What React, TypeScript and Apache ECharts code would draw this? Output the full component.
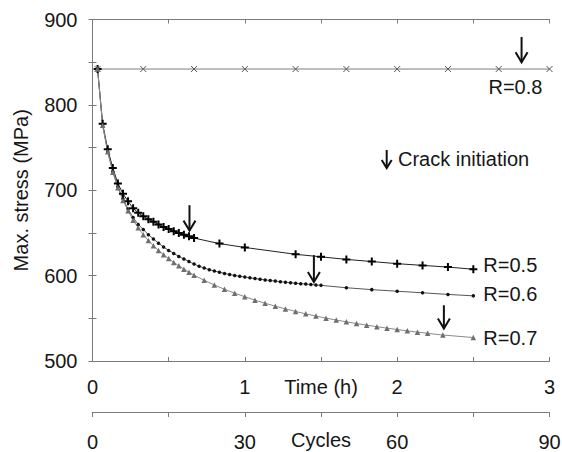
import React, { useEffect, useRef } from 'react';
import * as echarts from 'echarts';

// ---- data (x in cycles, y in MPa) ----
const cyclesR05 = [1, 2, 3, 4, 5, 6, 7, 8, 9, 10, 11, 12, 13, 14, 15, 16, 17, 18, 19, 20, 25, 30, 40, 45, 50, 55, 60, 65, 70, 75];
const stressR05 = [842, 778, 748, 726, 708, 696, 687, 679, 673.5, 669.5, 666, 663, 660, 657, 654.5, 652, 650, 648, 646, 644, 637.5, 633, 625, 622, 619, 616.5, 614, 612, 610, 607.5];

const cyclesR06 = [1, 2, 3, 4, 5, 6, 7, 8, 9, 10, 11, 12, 13, 14, 15, 16, 17, 18, 19, 20, 21, 22, 23, 24, 25, 26, 27, 28, 29, 30, 31, 32, 33, 34, 35, 36, 37, 38, 39, 40, 41, 42, 43, 44, 45, 50, 55, 60, 65, 70, 75];
const stressR06 = [842, 776, 745, 722, 704, 690, 678, 668, 660, 654, 648, 643, 638, 633.5, 629.5, 626, 622.5, 619.5, 616.5, 613.5, 611, 609, 607, 605.5, 604, 602.6, 601.3, 600.2, 599.2, 598.3, 597.4, 596.6, 595.8, 595, 594.3, 593.6, 592.9, 592.3, 591.7, 591.1, 590.6, 590.1, 589.6, 589.1, 588.6, 585.8, 583.6, 581.7, 579.9, 578, 576.3];

const cyclesR07 = [1, 2, 3, 4, 5, 6, 7, 8, 9, 10, 11, 12, 13, 14, 15, 16, 17, 18, 19, 20, 22, 24, 26, 28, 30, 32, 34, 36, 38, 40, 42, 44, 46, 48, 50, 52, 54, 56, 58, 60, 62, 64, 66, 69, 75];
const stressR07 = [842, 776, 745, 721, 703, 688, 676, 665, 656, 648, 641, 635, 629.5, 624.5, 620, 615.5, 611.5, 607.5, 604, 600.5, 594.5, 589, 584, 579.5, 575.3, 571.3, 567.6, 564.2, 561, 558, 555.2, 552.6, 550.2, 548, 545.9, 543.9, 542, 540.2, 538.5, 536.9, 535.3, 533.8, 532.4, 530.4, 527.5];

const cyclesR08 = [1, 10, 20, 30, 40, 50, 60, 70, 80, 90];
const stressR08 = [842, 842, 842, 842, 842, 842, 842, 842, 842, 842];

// crack initiation arrows: cycle, top stress, tip stress
const arrowCycles = [19.1, 43.6, 69.2, 84.5];
const arrowTop = [682.5, 624, 565.3, 879.5];
const arrowTip = [652.7, 592.6, 538, 850];

const seriesNames = ['R=0.5', 'R=0.6', 'R=0.7', 'R=0.8'];

const FONT = 'Liberation Sans, Arial, Helvetica, sans-serif';
const FS = 20;
const TXT = '#161616';
const AX = '#7a7a7a';

const zip = (xs: number[], ys: number[]) => xs.map((x, i) => [x, ys[i]]);

export default function App() {
  const ref = useRef<HTMLDivElement>(null);
  useEffect(() => {
    if (!ref.current) return;
    const chart = echarts.init(ref.current, null, { renderer: 'svg' });
    const axisLine = { show: true, lineStyle: { color: AX, width: 1 } };
    const option: any = {
      animation: false,
      textStyle: { fontFamily: FONT },
      grid: { left: 92.5, right: 12.5, top: 19.5, bottom: 91, containLabel: false, outerBoundsMode: 'none' },
      xAxis: [
        {
          type: 'value', position: 'bottom', offset: 51, min: 0, max: 90, interval: 15,
          axisLine, splitLine: { show: false },
          axisTick: { show: true, inside: false, length: 5, lineStyle: { color: AX } },
          axisLabel: { margin: 20, fontSize: FS, color: TXT, formatter: (v: number) => (v % 30 === 0 ? String(v) : '') },
          name: 'Cycles', nameLocation: 'middle', nameGap: 18, nameMoveOverlap: false,
          nameTextStyle: { fontSize: FS, color: TXT },
        },
        {
          type: 'value', position: 'bottom', offset: 0, min: 0, max: 3, interval: 0.5,
          axisLine, splitLine: { show: false },
          axisTick: { show: true, inside: true, length: 4, lineStyle: { color: AX } },
          axisLabel: { margin: 16, fontSize: FS, color: TXT, formatter: (v: number) => (Number.isInteger(v) ? String(v) : '') },
          name: 'Time (h)', nameLocation: 'middle', nameGap: 16, nameMoveOverlap: false,
          nameTextStyle: { fontSize: FS, color: TXT },
        },
        {
          type: 'value', position: 'top', min: 0, max: 3, interval: 0.5,
          axisLine, splitLine: { show: false },
          axisTick: { show: true, inside: true, length: 4, lineStyle: { color: AX } },
          axisLabel: { show: false },
        },
      ],
      yAxis: [
        {
          type: 'value', position: 'left', min: 500, max: 900, interval: 50,
          axisLine, splitLine: { show: false },
          axisTick: { show: true, inside: true, length: 4, lineStyle: { color: AX } },
          axisLabel: { margin: 15, fontSize: FS, color: TXT, formatter: (v: number) => (v % 100 === 0 ? String(v) : '') },
          name: 'Max. stress (MPa)', nameLocation: 'middle', nameGap: 62, nameMoveOverlap: false,
          nameTextStyle: { fontSize: FS, color: TXT },
        },
        {
          type: 'value', position: 'right', min: 500, max: 900, interval: 50,
          axisLine, splitLine: { show: false },
          axisTick: { show: true, inside: true, length: 4, lineStyle: { color: AX } },
          axisLabel: { show: false },
        },
      ],
      series: [
        {
          name: seriesNames[3], type: 'line', xAxisIndex: 0, yAxisIndex: 0,
          data: zip(cyclesR08, stressR08),
          symbol: 'path://M0,0L8,8M8,0L0,8', symbolSize: 6,
          itemStyle: { color: 'none', borderColor: '#555', borderWidth: 1 },
          lineStyle: { color: '#7d7d7d', width: 1 },
          endLabel: { show: true, formatter: seriesNames[3], fontSize: FS, color: TXT, distance: 0, offset: [-61, 17.5] },
        },
        {
          name: seriesNames[0], type: 'line', xAxisIndex: 0, yAxisIndex: 0,
          data: zip(cyclesR05, stressR05),
          symbol: 'path://M4,0L4,8M0,4L8,4', symbolSize: 8,
          itemStyle: { color: 'none', borderColor: '#000', borderWidth: 2 },
          lineStyle: { color: '#222', width: 1 },
          endLabel: { show: true, formatter: seriesNames[0], fontSize: FS, color: TXT, distance: 10, offset: [0, -4] },
        },
        {
          name: seriesNames[1], type: 'line', xAxisIndex: 0, yAxisIndex: 0,
          data: zip(cyclesR06, stressR06),
          symbol: 'circle', symbolSize: 3.5,
          itemStyle: { color: '#111', borderWidth: 0 },
          lineStyle: { color: '#555', width: 1 },
          endLabel: { show: true, formatter: seriesNames[1], fontSize: FS, color: TXT, distance: 10, offset: [0, -2] },
        },
        {
          name: seriesNames[2], type: 'line', xAxisIndex: 0, yAxisIndex: 0,
          data: zip(cyclesR07, stressR07),
          symbol: 'triangle', symbolSize: 5.5,
          itemStyle: { color: '#6e6e6e', borderWidth: 0 },
          lineStyle: { color: '#8a8a8a', width: 1 },
          endLabel: { show: true, formatter: seriesNames[2], fontSize: FS, color: TXT, distance: 10, offset: [0, 0] },
        },
        {
          name: 'Crack initiation', type: 'custom', xAxisIndex: 0, yAxisIndex: 0,
          data: arrowCycles.map((c, i) => [c, arrowTop[i], arrowTip[i]]),
          encode: { x: 0, y: [1, 2] },
          renderItem: (_p: any, api: any) => {
            const a = api.coord([api.value(0), api.value(1)]);
            const b = api.coord([api.value(0), api.value(2)]);
            return {
              type: 'group',
              children: [
                { type: 'line', shape: { x1: a[0], y1: a[1], x2: b[0], y2: b[1] }, style: { stroke: '#111', lineWidth: 2 } },
                { type: 'polyline', shape: { points: [[b[0] - 6, b[1] - 10], [b[0], b[1]], [b[0] + 6, b[1] - 10]] }, style: { stroke: '#111', lineWidth: 2, fill: 'none' } },
              ],
            };
          },
        },
      ],
      graphic: [
        { type: 'line', shape: { x1: 386.7, y1: 150, x2: 386.7, y2: 168 }, style: { stroke: '#111', lineWidth: 2 } },
        { type: 'polyline', shape: { points: [[381.7, 160], [386.7, 168], [391.7, 160]] }, style: { stroke: '#111', lineWidth: 2, fill: 'none' } },
        { type: 'text', x: 398, y: 158.5, style: { text: 'Crack initiation', font: `${FS}px ${FONT}`, fill: TXT, textVerticalAlign: 'middle' } },
      ],
    };
    chart.setOption(option);
    return () => chart.dispose();
  }, []);
  return <div ref={ref} style={{ position: 'fixed', left: 0, top: 0, width: 562, height: 452, background: '#fff' }} />;
}
